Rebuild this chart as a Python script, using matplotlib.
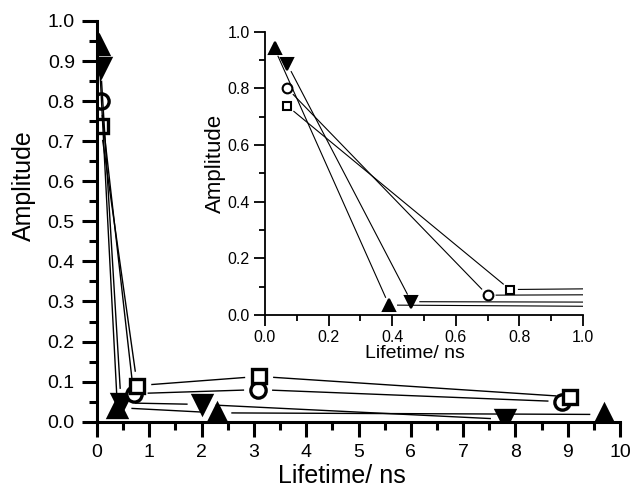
import matplotlib
matplotlib.use("Agg")
import matplotlib.pyplot as plt
import numpy as np

plt.rcParams['font.family'] = ['Liberation Sans', 'DejaVu Sans']

# Lifetime (ns) and amplitude for each of the four fits
up_x = [0.03, 0.39, 2.30, 9.70]
up_y = [0.941, 0.035, 0.022, 0.018]
down_x = [0.07, 0.46, 2.00, 7.80]
down_y = [0.886, 0.047, 0.043, 0.006]
circ_x = [0.07, 0.70, 3.08, 8.90]
circ_y = [0.800, 0.070, 0.080, 0.050]
sq_x = [0.07, 0.77, 3.10, 9.05]
sq_y = [0.738, 0.090, 0.113, 0.062]

series = [
    (up_x, up_y, '^', 'black'),
    (down_x, down_y, 'v', 'black'),
    (circ_x, circ_y, 'o', 'white'),
    (sq_x, sq_y, 's', 'white'),
]


def gapped_line(ax, xs, ys, gap, lw):
    # Origin-style line: stop short of each marker
    pts = ax.transData.transform(np.column_stack([xs, ys]))
    inv = ax.transData.inverted()
    for p0, p1 in zip(pts[:-1], pts[1:]):
        d = p1 - p0
        u = d / np.hypot(*d)
        seg = inv.transform(np.array([p0 + u * gap, p1 - u * gap]))
        ax.plot(seg[:, 0], seg[:, 1], color='black', lw=lw, solid_capstyle='butt')


fig = plt.figure(figsize=(6.32, 4.88), dpi=100)

# main axes
ax = fig.add_axes([0.1535, 0.1359, 0.8275, 0.8211])
ax.set_xlim(0, 10)
ax.set_ylim(0, 1.0)
sizes_main = {'^': 13, 'v': 13, 'o': 11, 's': 10}
for xs, ys, m, fc in series:
    gapped_line(ax, xs, ys, 14, 1.0)
    ax.plot(xs, ys, ls='none', marker=m, ms=sizes_main[m], mfc=fc, mec='black',
            mew=2.4, clip_on=True, zorder=1.5)
ax.set_xticks(np.arange(0, 11, 1))
ax.set_xticks(np.arange(0.5, 10, 1), minor=True)
ax.set_yticks(np.arange(0, 1.01, 0.1))
ax.set_yticks(np.arange(0.05, 1.0, 0.1), minor=True)
ax.set_yticklabels([f'{v:.1f}' for v in np.arange(0, 1.01, 0.1)])
for s in ['top', 'right']:
    ax.spines[s].set_visible(False)
for s in ['left', 'bottom']:
    ax.spines[s].set_linewidth(2.2)
ax.tick_params(which='major', direction='out', length=11, width=2.2, labelsize=14, pad=5)
ax.tick_params(which='minor', direction='out', length=6, width=2.2)
ax.set_xlabel('Lifetime/ ns', fontsize=18, labelpad=2)
ax.set_ylabel('Amplitude', fontsize=18, labelpad=8)
ax.xaxis.label.set_x(0.468)
ax.yaxis.label.set_y(0.589)

# inset
ins = fig.add_axes([0.4193, 0.3545, 0.5032, 0.5805])
ins.set_xlim(0, 1.0)
ins.set_ylim(0, 1.0)
sizes_ins = {'^': 8.5, 'v': 8.5, 'o': 7, 's': 6}
for xs, ys, m, fc in series:
    gapped_line(ins, xs, ys, 8, 0.8)
    ins.plot(xs, ys, ls='none', marker=m, ms=sizes_ins[m], mfc=fc, mec='black',
             mew=1.5, clip_on=False, zorder=3)
ins.set_xticks(np.arange(0, 1.01, 0.2))
ins.set_xticks(np.arange(0.1, 1.0, 0.2), minor=True)
ins.set_yticks(np.arange(0, 1.01, 0.2))
ins.set_yticks(np.arange(0.1, 1.0, 0.2), minor=True)
ins.set_xticklabels([f'{v:.1f}' for v in np.arange(0, 1.01, 0.2)])
ins.set_yticklabels([f'{v:.1f}' for v in np.arange(0, 1.01, 0.2)])
for s in ['top', 'right']:
    ins.spines[s].set_visible(False)
for s in ['left', 'bottom']:
    ins.spines[s].set_linewidth(1.3)
ins.tick_params(which='major', direction='out', length=8, width=1.3, labelsize=11.5, pad=3)
ins.tick_params(which='minor', direction='out', length=4.5, width=1.3)
ins.set_xlabel('Lifetime/ ns', fontsize=14, labelpad=0)
ins.set_ylabel('Amplitude', fontsize=16, labelpad=1)
ins.xaxis.label.set_x(0.472)
ins.yaxis.label.set_y(0.535)

fig.savefig('out.png', dpi=100)
